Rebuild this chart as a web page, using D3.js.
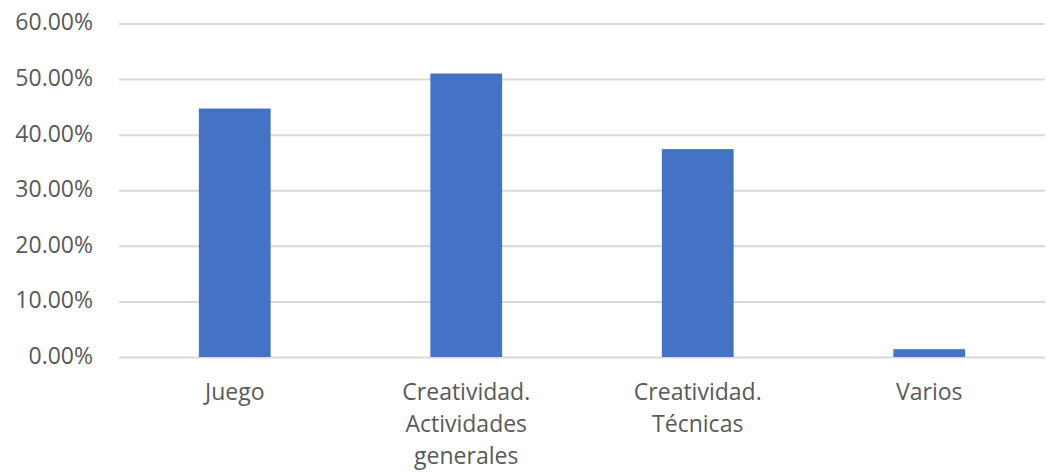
<!DOCTYPE html>
<html><head><meta charset="utf-8">
<script src="https://cdn.jsdelivr.net/npm/d3@7"></script>
<style>body{margin:0;background:#fff}svg{display:block}</style>
</head><body><svg id="c" width="1047" height="472"></svg>
<script>
const categories = [["Juego"], ["Creatividad.", "Actividades", "generales"], ["Creatividad.", "Técnicas"], ["Varios"]];
const values = [0.447, 0.510, 0.374, 0.014];
const yTicks = [0, 0.1, 0.2, 0.3, 0.4, 0.5, 0.6];

(function() {
const svg = d3.select("#c");
const mL = 119, mR = 1045, mT = 23.5, mB = 357;
const font = "'Open Sans', sans-serif";
const x = d3.scaleBand().domain(d3.range(categories.length)).range([mL, mR]).paddingInner(0.69).paddingOuter(0.345);
const y = d3.scaleLinear().domain([0, 0.6]).range([mB, mT]);

const yAxis = d3.axisLeft(y).tickValues(yTicks).tickSize(-(mR - mL)).tickFormat(d => (d * 100).toFixed(2) + "%").tickPadding(26);
const gy = svg.append("g").attr("transform", `translate(${mL},0)`).call(yAxis);
gy.select(".domain").remove();
gy.selectAll(".tick line").attr("stroke", "#d9d9d9").attr("stroke-width", 2);
gy.selectAll(".tick text").attr("fill", "#595959").attr("font-size", 23).attr("font-family", font).attr("dy", "0.28em");

svg.append("g").selectAll("rect").data(values).join("rect")
  .attr("x", (d, i) => x(i)).attr("width", x.bandwidth())
  .attr("y", d => y(d)).attr("height", d => y(0) - y(d))
  .attr("fill", "#4472c4");

const gx = svg.append("g").attr("transform", `translate(0,${mB})`)
  .call(d3.axisBottom(x).tickSize(0).tickFormat(""));
gx.select(".domain").remove();
gx.selectAll(".tick").each(function(i) {
  const t = d3.select(this).append("text").attr("fill", "#595959").attr("font-size", 23)
    .attr("font-family", font).attr("text-anchor", "middle");
  categories[i].forEach((line, k) => t.append("tspan").attr("x", 0).attr("y", 43 + k * 32).text(line));
});
})();
</script></body></html>
